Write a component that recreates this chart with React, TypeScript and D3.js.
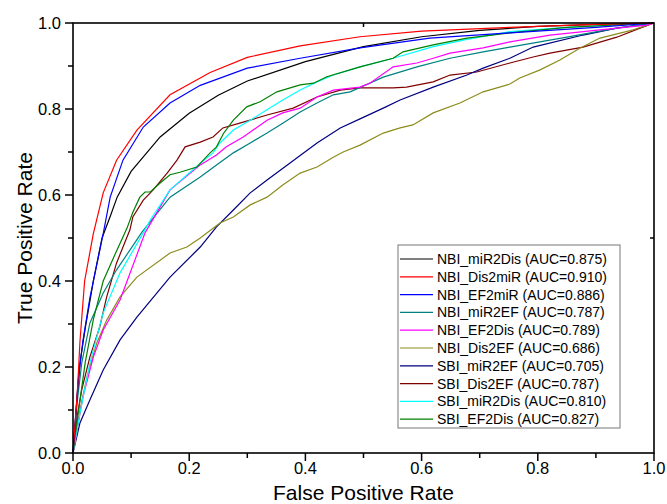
import React from 'react';
import * as d3 from 'd3';

// ROC points: [FPR, TPR]
const nbiMiR2Dis: [number, number][] = [
  [0, 0], [0.007, 0.13], [0.012, 0.21], [0.021, 0.29], [0.035, 0.40], [0.05, 0.50], [0.064, 0.55],
  [0.076, 0.595], [0.1, 0.655], [0.15, 0.735], [0.2, 0.79], [0.25, 0.832], [0.3, 0.865], [0.4, 0.91],
  [0.5, 0.945], [0.6, 0.968], [0.7, 0.983], [0.8, 0.992], [0.9, 0.997], [1, 1],
];
const nbiDis2miR: [number, number][] = [
  [0, 0], [0.007, 0.13], [0.012, 0.26], [0.02, 0.40], [0.035, 0.51], [0.052, 0.605], [0.075, 0.681],
  [0.11, 0.751], [0.167, 0.833], [0.236, 0.885], [0.3, 0.92], [0.391, 0.947], [0.494, 0.968],
  [0.6, 0.981], [0.752, 0.99], [0.9, 0.997], [1, 1],
];
const nbiEF2miR: [number, number][] = [
  [0, 0], [0.009, 0.17], [0.017, 0.26], [0.029, 0.36], [0.052, 0.51], [0.064, 0.595], [0.086, 0.681],
  [0.121, 0.758], [0.167, 0.814], [0.219, 0.855], [0.3, 0.895], [0.391, 0.918], [0.494, 0.942],
  [0.614, 0.965], [0.752, 0.977], [0.9, 0.99], [1, 1],
];
const nbiMiR2EF: [number, number][] = [
  [0, 0], [0.007, 0.116], [0.015, 0.209], [0.029, 0.302], [0.052, 0.372], [0.075, 0.426], [0.119, 0.514],
  [0.167, 0.595], [0.219, 0.642], [0.247, 0.67], [0.276, 0.698], [0.305, 0.721], [0.334, 0.744],
  [0.361, 0.767], [0.391, 0.793], [0.42, 0.814], [0.448, 0.833], [0.477, 0.84], [0.534, 0.874],
  [0.592, 0.898], [0.649, 0.918], [0.706, 0.933], [0.752, 0.944], [0.85, 0.967], [0.936, 0.988], [1, 1],
];
const nbiEF2Dis: [number, number][] = [
  [0, 0], [0.007, 0.053], [0.017, 0.13], [0.035, 0.223], [0.052, 0.286], [0.081, 0.356], [0.124, 0.512],
  [0.167, 0.612], [0.219, 0.67], [0.247, 0.693], [0.264, 0.712], [0.293, 0.735], [0.31, 0.751],
  [0.334, 0.774], [0.361, 0.791], [0.391, 0.802], [0.42, 0.828], [0.448, 0.844], [0.494, 0.851],
  [0.511, 0.86], [0.551, 0.898], [0.592, 0.907], [0.62, 0.918], [0.649, 0.93], [0.706, 0.942],
  [0.752, 0.956], [0.821, 0.972], [0.907, 0.984], [0.988, 0.995], [1, 1],
];
const nbiDis2EF: [number, number][] = [
  [0, 0], [0.003, 0.023], [0.012, 0.1], [0.024, 0.177], [0.041, 0.256], [0.058, 0.309], [0.081, 0.363],
  [0.11, 0.409], [0.167, 0.465], [0.196, 0.479], [0.219, 0.5], [0.253, 0.535], [0.276, 0.549],
  [0.305, 0.577], [0.334, 0.595], [0.361, 0.623], [0.391, 0.651], [0.42, 0.665], [0.448, 0.688],
  [0.465, 0.7], [0.494, 0.716], [0.534, 0.744], [0.563, 0.756], [0.585, 0.763], [0.62, 0.791],
  [0.666, 0.814], [0.706, 0.84], [0.752, 0.858], [0.769, 0.872], [0.804, 0.891], [0.838, 0.914],
  [0.873, 0.942], [0.907, 0.965], [0.964, 0.984], [1, 1],
];
const sbiMiR2EF: [number, number][] = [
  [0, 0], [0.012, 0.07], [0.029, 0.123], [0.052, 0.193], [0.081, 0.263], [0.11, 0.316], [0.167, 0.409],
  [0.219, 0.479], [0.247, 0.526], [0.276, 0.565], [0.305, 0.605], [0.334, 0.635], [0.373, 0.674],
  [0.42, 0.721], [0.46, 0.756], [0.494, 0.777], [0.534, 0.802], [0.563, 0.821], [0.62, 0.851],
  [0.678, 0.879], [0.706, 0.895], [0.752, 0.918], [0.792, 0.944], [0.878, 0.972], [0.936, 0.988], [1, 1],
];
const sbiDis2EF: [number, number][] = [
  [0, 0], [0.007, 0.084], [0.015, 0.147], [0.029, 0.223], [0.046, 0.293], [0.058, 0.363], [0.075, 0.442],
  [0.098, 0.519], [0.103, 0.549], [0.121, 0.588], [0.138, 0.612], [0.162, 0.651], [0.179, 0.681],
  [0.193, 0.712], [0.219, 0.723], [0.241, 0.735], [0.258, 0.756], [0.287, 0.767], [0.334, 0.786],
  [0.379, 0.802], [0.42, 0.828], [0.46, 0.844], [0.494, 0.849], [0.551, 0.849], [0.574, 0.851],
  [0.62, 0.863], [0.649, 0.879], [0.695, 0.886], [0.752, 0.907], [0.792, 0.921], [0.821, 0.93],
  [0.878, 0.944], [0.936, 0.967], [0.976, 0.988], [1, 1],
];
const sbiMiR2Dis: [number, number][] = [
  [0, 0], [0.012, 0.093], [0.029, 0.209], [0.052, 0.326], [0.081, 0.419], [0.121, 0.512], [0.133, 0.542],
  [0.167, 0.612], [0.219, 0.674], [0.241, 0.698], [0.253, 0.721], [0.276, 0.751], [0.305, 0.774],
  [0.334, 0.798], [0.361, 0.821], [0.391, 0.844], [0.42, 0.863], [0.448, 0.879], [0.494, 0.898],
  [0.551, 0.918], [0.62, 0.945], [0.678, 0.962], [0.752, 0.98], [0.85, 0.99], [1, 1],
];
const sbiEF2Dis: [number, number][] = [
  [0, 0], [0.009, 0.093], [0.021, 0.21], [0.035, 0.31], [0.052, 0.4], [0.075, 0.47], [0.093, 0.523],
  [0.103, 0.56], [0.115, 0.595], [0.124, 0.607], [0.133, 0.607], [0.15, 0.628], [0.167, 0.647],
  [0.184, 0.653], [0.213, 0.665], [0.236, 0.698], [0.247, 0.712], [0.259, 0.743], [0.276, 0.774],
  [0.299, 0.805], [0.322, 0.817], [0.351, 0.84], [0.391, 0.856], [0.414, 0.86], [0.437, 0.875],
  [0.494, 0.898], [0.551, 0.918], [0.568, 0.933], [0.62, 0.949], [0.678, 0.965], [0.752, 0.977],
  [0.85, 0.99], [1, 1],
];

const names = [
  'NBI_miR2Dis', 'NBI_Dis2miR', 'NBI_EF2miR', 'NBI_miR2EF', 'NBI_EF2Dis',
  'NBI_Dis2EF', 'SBI_miR2EF', 'SBI_Dis2EF', 'SBI_miR2Dis', 'SBI_EF2Dis',
];
const aucs = ['0.875', '0.910', '0.886', '0.787', '0.789', '0.686', '0.705', '0.787', '0.810', '0.827'];
const colors = [
  '#000000', '#ff0000', '#0000ff', '#008080', '#ff00ff',
  '#8c8c1c', '#000080', '#800000', '#00ffff', '#008000',
];
const curves = [
  nbiMiR2Dis, nbiDis2miR, nbiEF2miR, nbiMiR2EF, nbiEF2Dis,
  nbiDis2EF, sbiMiR2EF, sbiDis2EF, sbiMiR2Dis, sbiEF2Dis,
];
// draw order (last on top)
const drawOrder = [7, 6, 5, 3, 4, 8, 9, 0, 2, 1];

const majorTicks = [0, 0.2, 0.4, 0.6, 0.8, 1.0];
const minorTicks = [0.1, 0.3, 0.5, 0.7, 0.9];

const font = '"Liberation Sans", Arial, sans-serif';

export default function App() {
  const width = 667;
  const height = 504;
  const m = { left: 73, right: 654, top: 23, bottom: 453 };

  const x = d3.scaleLinear().domain([0, 1]).range([m.left, m.right]);
  const y = d3.scaleLinear().domain([0, 1]).range([m.bottom, m.top]);
  const line = d3.line<[number, number]>().x(d => x(d[0])).y(d => y(d[1]));

  const legendX = 398;
  const legendY = 245;
  const rowH = 17.8;

  return (
    <svg width={width} height={height} style={{ position: 'absolute', left: 0, top: 0, background: '#fff' }}>
      <rect x={0} y={0} width={width} height={height} fill="#fff" />
      <g>
        {drawOrder.map(i => (
          <path key={i} d={line(curves[i]) || ''} fill="none" stroke={colors[i]} strokeWidth={1.2} />
        ))}
      </g>

      {/* frame */}
      <rect x={m.left} y={m.top} width={m.right - m.left} height={m.bottom - m.top}
        fill="none" stroke="#000" strokeWidth={1.6} />

      {/* bottom axis ticks */}
      {majorTicks.map(t => (
        <g key={'xm' + t}>
          <line x1={x(t)} x2={x(t)} y1={m.bottom} y2={m.bottom + 8} stroke="#000" strokeWidth={1.5} />
          <text x={x(t)} y={474} textAnchor="middle" fontFamily={font} fontSize={16.5}>{t.toFixed(1)}</text>
        </g>
      ))}
      {minorTicks.map(t => (
        <line key={'xn' + t} x1={x(t)} x2={x(t)} y1={m.bottom} y2={m.bottom + 5} stroke="#000" strokeWidth={1.5} />
      ))}

      {/* left axis ticks */}
      {majorTicks.map(t => (
        <g key={'ym' + t}>
          <line x1={m.left - 8} x2={m.left} y1={y(t)} y2={y(t)} stroke="#000" strokeWidth={1.5} />
          <text x={61} y={y(t) + 6} textAnchor="end" fontFamily={font} fontSize={16.5}>{t.toFixed(1)}</text>
        </g>
      ))}
      {minorTicks.map(t => (
        <line key={'yn' + t} x1={m.left - 5} x2={m.left} y1={y(t)} y2={y(t)} stroke="#000" strokeWidth={1.5} />
      ))}

      {/* top / right small ticks */}
      <line x1={x(0.5)} x2={x(0.5)} y1={m.top} y2={m.top + 4} stroke="#000" strokeWidth={1.5} />
      <line x1={m.right - 4} x2={m.right} y1={y(0.5)} y2={y(0.5)} stroke="#000" strokeWidth={1.5} />

      {/* axis titles */}
      <text x={(m.left + m.right) / 2} y={500} textAnchor="middle" fontFamily={font} fontSize={21}>False Positive Rate</text>
      <text transform={`translate(32, ${(m.top + m.bottom) / 2}) rotate(-90)`} textAnchor="middle"
        fontFamily={font} fontSize={21}>True Positive Rate</text>

      {/* legend */}
      <rect x={legendX} y={legendY} width={222} height={183} fill="#fff" stroke="#777" strokeWidth={1} />
      {names.map((n, i) => {
        const cy = legendY + 14 + i * rowH;
        return (
          <g key={n}>
            <line x1={legendX + 2} x2={legendX + 35} y1={cy} y2={cy} stroke={colors[i]} strokeWidth={1.2} />
            <text x={legendX + 39} y={cy + 5} fontFamily={font} fontSize={14}>{`${n} (AUC=${aucs[i]})`}</text>
          </g>
        );
      })}
    </svg>
  );
}
